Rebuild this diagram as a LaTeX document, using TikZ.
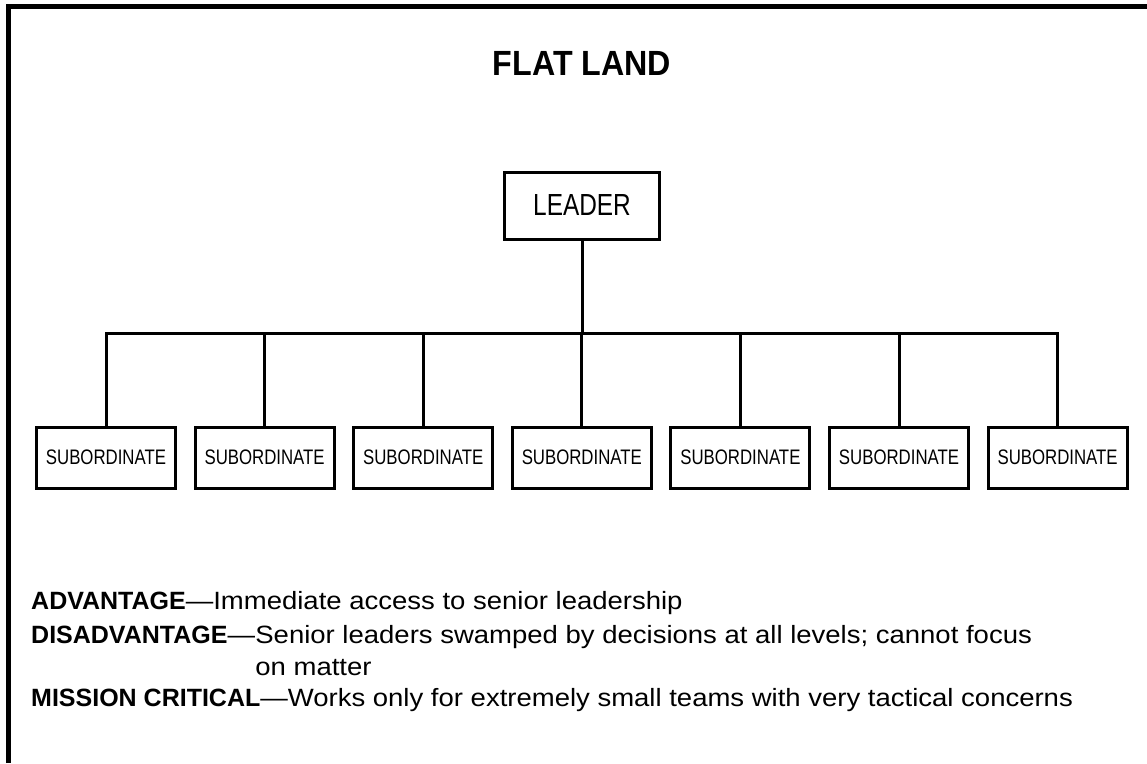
\documentclass[tikz,border=0pt]{standalone}
\usepackage{fontspec}
\setmainfont{Liberation Sans}
\newfontfamily\condfont[FakeStretch=0.8]{Liberation Sans}
\newfontfamily\bodyfont[FakeStretch=1.1]{Liberation Sans}
\newfontfamily\boldbody[FakeStretch=1.0]{Liberation Sans}
\newfontfamily\titlefont[FakeStretch=0.92]{Liberation Sans}
\newcommand{\hd}[1]{{\boldbody\bfseries #1}}
\begin{document}
\begin{tikzpicture}[x=1pt,y=-1pt,
  leaderbox/.style={draw,line width=3pt,minimum width=155pt,minimum height=67pt,inner sep=0pt,
    font=\condfont\fontsize{30.5}{34}\selectfont},
  subbox/.style={draw,line width=3pt,minimum width=139pt,minimum height=61pt,inner sep=0pt,
    font=\condfont\fontsize{21}{25}\selectfont},
  conn/.style={line width=3pt},
  txt/.style={anchor=base west,inner sep=0pt,font=\bodyfont\fontsize{25}{30}\selectfont}]
\useasboundingbox (0,0) rectangle (1147,763);
\draw[line width=5pt] (8.5,763) -- (8.5,6.5) -- (1147,6.5);
\node[anchor=base,inner sep=0pt,font=\titlefont\bfseries\fontsize{35}{40}\selectfont] (title) at (582,75) {FLAT LAND};
\node[leaderbox] (leader) at (582,205.5) {LEADER};
\foreach \i in {1,...,7} {
  \node[subbox] (s\i) at ({106+158.6*(\i-1)},457.5) {SUBORDINATE};
}
\coordinate (bar) at (582,333);
\draw[conn] (leader.south) -- (bar);
\draw[conn] (s1.north) |- (bar) -| (s7.north);
\foreach \i in {2,...,6} { \draw[conn] (s\i.north) -- (s\i.north |- bar); }
\node[txt] (adv) at (31,609) {\hd{ADVANTAGE}—Immediate access to senior leadership};
\node[txt] (dish) at (31,643) {\hd{DISADVANTAGE}—};
\node[txt] (dist) at (dish.base east) {Senior leaders swamped by decisions at all levels; cannot focus};
\node[txt] (dis2) at ([yshift=-32pt]dist.base west) {on matter};
\node[txt] (mis) at (31,706) {\hd{MISSION CRITICAL}—Works only for extremely small teams with very tactical concerns};
\end{tikzpicture}
\end{document}
